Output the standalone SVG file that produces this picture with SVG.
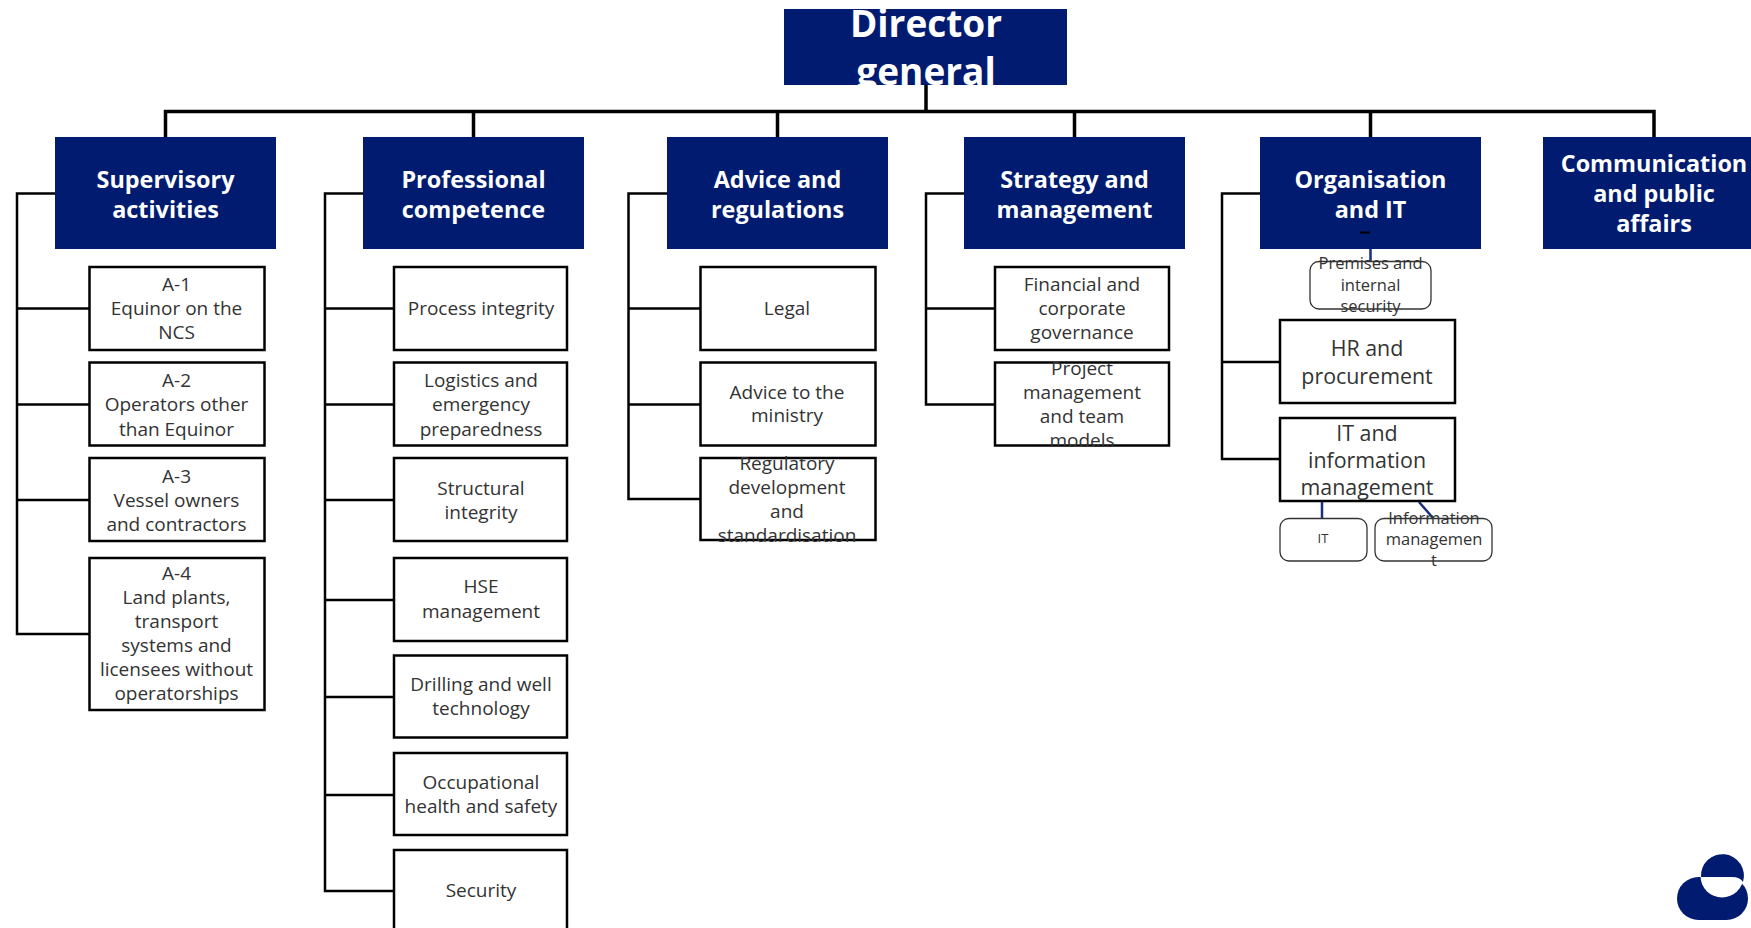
<svg xmlns="http://www.w3.org/2000/svg" width="1751" height="928" viewBox="0 0 1751 928">
<style>
text{font-family:"Open Sans","Noto Sans","Liberation Sans",sans-serif;text-anchor:middle}
.h{fill:#001b6f}
.ht{fill:#fff;font-weight:700;font-size:23.400px}
.b{fill:#fff;stroke:#000;stroke-width:2.5}
.r{fill:#fff;stroke:#333;stroke-width:1.3}
.t{fill:#333;font-size:19px}
.m{fill:#333;font-size:21.400px}
.s{fill:#333;font-size:16.500px}
.c{fill:none;stroke:#000;stroke-width:2.5}
.bus{fill:none;stroke:#000;stroke-width:3.5}
.bl{fill:none;stroke:#1a2f7f;stroke-width:2.500}
</style>
<defs><clipPath id="dc"><rect x="784" y="9" width="283" height="77"/></clipPath></defs>
<rect width="1751" height="928" fill="#fff"/>
<g id="connectors">
<path class="bus" d="M926 85V111.500M165.500 137V111.500H1654V137M473.500 111.500V137M777.500 111.500V137M1074.500 111.500V137M1370.500 111.500V137"/>
<path class="c" d="M55 193.500H17V634H89M17 308.500H89M17 404.500H89M17 500H89"/>
<path class="c" d="M363 193.500H325V891H394M325 308.500H394M325 404.500H394M325 500H394M325 600H394M325 697H394M325 795H394"/>
<path class="c" d="M667 193.500H628.500V499H700M628.500 308.500H700M628.500 404.500H700"/>
<path class="c" d="M964 193.500H926V404.500H995M926 308.500H995"/>
<path class="c" d="M1260 193.500H1222V459H1280M1222 362H1280"/>
<path class="bl" d="M1370.500 248V261M1322 501V518M1419 502L1433 518"/>
</g>
<g id="director"><rect class="h" x="784" y="9" width="283" height="76"/><g clip-path="url(#dc)"><text x="926" y="37" fill="#fff" font-weight="700" font-size="37">Director</text><text x="926" y="85" fill="#fff" font-weight="700" font-size="37">general</text></g></g>
<g id="supervisory"><rect class="h" x="55" y="137" width="221" height="112"/><text class="ht" x="165.500" y="187.500">Supervisory</text><text class="ht" x="165.500" y="217.500">activities</text></g>
<g id="professional"><rect class="h" x="363" y="137" width="221" height="112"/><text class="ht" x="473.500" y="187.500">Professional</text><text class="ht" x="473.500" y="217.500">competence</text></g>
<g id="advice"><rect class="h" x="667" y="137" width="221" height="112"/><text class="ht" x="777.500" y="187.500">Advice and</text><text class="ht" x="777.500" y="217.500">regulations</text></g>
<g id="strategy"><rect class="h" x="964" y="137" width="221" height="112"/><text class="ht" x="1074.500" y="187.500">Strategy and</text><text class="ht" x="1074.500" y="217.500">management</text></g>
<g id="organisation"><rect class="h" x="1260" y="137" width="221" height="112"/><text class="ht" x="1370.500" y="187.500">Organisation</text><text class="ht" x="1370.500" y="217.500">and IT</text><path d="M1360 232.500H1370" stroke="#000" stroke-width="2"/></g>
<g id="communication"><rect class="h" x="1543" y="137" width="208" height="112"/><text class="ht" x="1654" y="171.500">Communication</text><text class="ht" x="1654" y="201.500">and public</text><text class="ht" x="1654" y="231.500">affairs</text></g>
<g id="a1"><rect class="b" x="89.500" y="267" width="175" height="83"/><text class="t" x="176.500" y="290.500">A-1</text><text class="t" x="176.500" y="314.500">Equinor on the</text><text class="t" x="176.500" y="338.500">NCS</text></g>
<g id="a2"><rect class="b" x="89.500" y="362.500" width="175" height="83"/><text class="t" x="176.500" y="387">A-2</text><text class="t" x="176.500" y="411">Operators other</text><text class="t" x="176.500" y="435.500">than Equinor</text></g>
<g id="a3"><rect class="b" x="89.500" y="458" width="175" height="83"/><text class="t" x="176.500" y="482.500">A-3</text><text class="t" x="176.500" y="506.500">Vessel owners</text><text class="t" x="176.500" y="530.500">and contractors</text></g>
<g id="a4"><rect class="b" x="89.500" y="558" width="175" height="152"/><text class="t" x="176.500" y="579.500">A-4</text><text class="t" x="176.500" y="603.500">Land plants,</text><text class="t" x="176.500" y="628">transport</text><text class="t" x="176.500" y="652">systems and</text><text class="t" x="176.500" y="676">licensees without</text><text class="t" x="176.500" y="700">operatorships</text></g>
<g id="process"><rect class="b" x="394" y="267" width="173" height="83"/><text class="t" x="481" y="314.500">Process integrity</text></g>
<g id="logistics"><rect class="b" x="394" y="362.500" width="173" height="83"/><text class="t" x="481" y="387">Logistics and</text><text class="t" x="481" y="411">emergency</text><text class="t" x="481" y="435.500">preparedness</text></g>
<g id="structural"><rect class="b" x="394" y="458" width="173" height="83"/><text class="t" x="481" y="494.500">Structural</text><text class="t" x="481" y="518.500">integrity</text></g>
<g id="hse"><rect class="b" x="394" y="558" width="173" height="83"/><text class="t" x="481" y="593">HSE</text><text class="t" x="481" y="617.500">management</text></g>
<g id="drilling"><rect class="b" x="394" y="655.500" width="173" height="82"/><text class="t" x="481" y="691">Drilling and well</text><text class="t" x="481" y="715">technology</text></g>
<g id="occupational"><rect class="b" x="394" y="753" width="173" height="82"/><text class="t" x="481" y="789">Occupational</text><text class="t" x="481" y="813">health and safety</text></g>
<g id="security"><rect class="b" x="394" y="850" width="173" height="84"/><text class="t" x="481" y="897">Security</text></g>
<g id="legal"><rect class="b" x="700.500" y="267" width="175" height="83"/><text class="t" x="787" y="314.500">Legal</text></g>
<g id="ministry"><rect class="b" x="700.500" y="362.500" width="175" height="83"/><text class="t" x="787" y="398.500">Advice to the</text><text class="t" x="787" y="422">ministry</text></g>
<g id="regulatory"><rect class="b" x="700.500" y="458" width="175" height="82"/><text class="t" x="787" y="469.500">Regulatory</text><text class="t" x="787" y="493.500">development</text><text class="t" x="787" y="517.500">and</text><text class="t" x="787" y="541.500">standardisation</text></g>
<g id="financial"><rect class="b" x="995" y="267" width="174" height="83"/><text class="t" x="1082" y="290.500">Financial and</text><text class="t" x="1082" y="314.500">corporate</text><text class="t" x="1082" y="338.500">governance</text></g>
<g id="project"><rect class="b" x="995" y="362.500" width="174" height="83"/><text class="t" x="1082" y="375">Project</text><text class="t" x="1082" y="399">management</text><text class="t" x="1082" y="423">and team</text><text class="t" x="1082" y="447">models</text></g>
<g id="premises"><rect class="r" x="1310" y="261.500" width="121" height="47.500" rx="9"/><text class="s" x="1370.500" y="269">Premises and</text><text class="s" x="1370.500" y="290.500">internal</text><text class="s" x="1370.500" y="311.500">security</text></g>
<g id="hr"><rect class="b" x="1280" y="320" width="175" height="83"/><text class="m" x="1367" y="356">HR and</text><text class="m" x="1367" y="384">procurement</text></g>
<g id="itinfo"><rect class="b" x="1280" y="418" width="175" height="83"/><text class="m" x="1367" y="441">IT and</text><text class="m" x="1367" y="468">information</text><text class="m" x="1367" y="495">management</text></g>
<g id="it"><rect class="r" x="1280" y="518.500" width="87" height="42.500" rx="9"/><text class="s" x="1323" y="543" style="font-size:13px">IT</text></g>
<g id="infomgmt"><rect class="r" x="1375" y="518.500" width="117" height="42.500" rx="9"/><text class="s" x="1434" y="524">Information</text><text class="s" x="1434" y="545">managemen</text><text class="s" x="1434" y="566">t</text></g>
<g id="logo"><rect class="h" x="1677" y="877" width="71" height="43" rx="21.500"/><circle cx="1722" cy="876" r="21.500" fill="#fff"/><path class="h" d="M1701 877A21.500 21.500 0 1 1 1743 882Q1740 877 1732 877Z"/></g>
</svg>
